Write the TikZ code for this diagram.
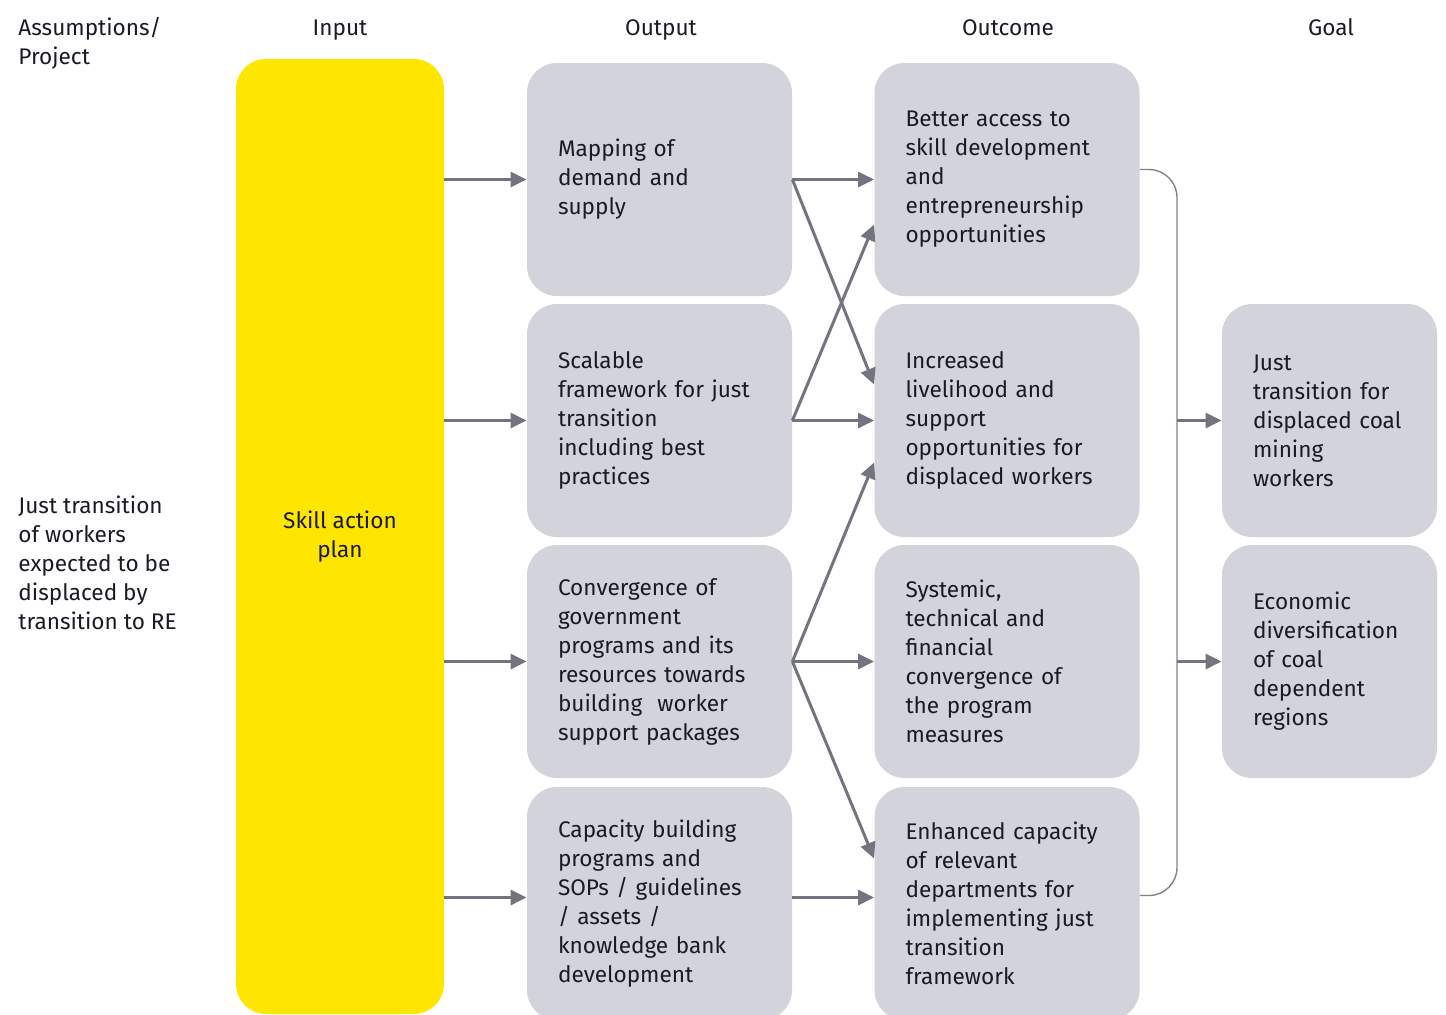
\documentclass[tikz,border=0pt]{standalone}
\usepackage{fontspec}
\setmainfont{Fira Sans}
\usepackage{tikz}
\usetikzlibrary{arrows.meta,calc}
\definecolor{eyyellow}{HTML}{FFE600}
\definecolor{boxgrey}{HTML}{D2D3DB}
\definecolor{linkgrey}{HTML}{747480}
\definecolor{textdark}{HTML}{1A1A24}

\tikzset{
  boxtext/.style={font=\fontsize{11.3}{14.5}\selectfont, text=textdark},
  card/.style={boxtext, fill=boxgrey, rounded corners=15pt, align=left,
    minimum height=116.5pt, inner xsep=15.5pt, text width=#1},
  card/.default=101.5pt,
  head/.style={boxtext, inner sep=0pt},
  flow/.style={-{Triangle[length=8pt,width=7.5pt]}, line width=1.5pt, linkgrey},
  bracket/.style={line width=0.7pt, draw=linkgrey!90, rounded corners=14pt}
}

\begin{document}
\begin{tikzpicture}[x=0.5pt,y=-0.5pt]
  \useasboundingbox (0,0) rectangle (1446,1014);
  \node[head, anchor=base west, align=left] (hass) at (18,64) {Assumptions/\\Project};
  \node[head, anchor=base] (hin) at (340,35) {Input};
  \node[head, anchor=base] (hout) at (661,35) {Output};
  \node[head, anchor=base] (hoc) at (1008,35) {Outcome};
  \node[head, anchor=base] (hgoal) at (1331,35) {Goal};

  \node[head, anchor=west, align=left] (assume) at (18,563)
    {Just transition\\of workers\\expected to be\\displaced by\\transition to RE};

  \node[boxtext, fill=eyyellow, rounded corners=15pt, minimum width=104pt,
    minimum height=477.5pt, align=center] (in) at (340,536.5) {Skill action\\plan};

  \node[card] (p1) at (659.5,179.5) {Mapping of\\demand and\\supply};
  \node[card] (p2) at (659.5,420.5) {Scalable\\framework for just\\transition\\including best\\practices};
  \node[card] (p3) at (659.5,661.5) {Convergence of\\government\\programs and its\\resources towards\\building\ \ worker\\support packages};
  \node[card] (p4) at (659.5,903.5) {Capacity building\\programs and\\SOPs / guidelines\\/ assets /\\knowledge bank\\development};

  \node[card] (r1) at (1007,179.5) {Better access to\\skill development\\and\\entrepreneurship\\opportunities};
  \node[card] (r2) at (1007,420.5) {Increased\\livelihood and\\support\\opportunities for\\displaced workers};
  \node[card] (r3) at (1007,661.5) {Systemic,\\technical and\\financial\\convergence of\\the program\\measures};
  \node[card] (r4) at (1007,903.5) {Enhanced capacity\\of relevant\\departments for\\implementing just\\transition\\framework};

  \node[card=76.5pt] (g1) at (1329.5,420.5) {Just\\transition for\\displaced coal\\mining\\workers};
  \node[card=76.5pt] (g2) at (1329.5,661.5) {Economic\\diversification\\of coal\\dependent\\regions};

  \foreach \p in {p1,p2,p3}
    \draw[flow] (in.east |- \p.west) -- (\p.west);
  \draw[flow] ([yshift=3pt]in.east |- p4.west) -- ([yshift=3pt]p4.west);

  \draw[flow] (p1.east) -- (r1.west);
  \draw[flow] (p1.east) -- ([yshift=18pt]r2.west);
  \draw[flow] (p2.east) -- (r2.west);
  \draw[flow] (p2.east) -- ([yshift=-22.5pt]r1.west);
  \draw[flow] (p3.east) -- (r3.west);
  \draw[flow] (p3.east) -- ([yshift=-21pt]r2.west);
  \draw[flow] (p3.east) -- ([yshift=22.5pt]r4.west);
  \draw[flow] ([yshift=3pt]p4.east) -- ([yshift=3pt]r4.west);

  \coordinate (bx) at (1177,540);
  \coordinate (b1) at ([yshift=5pt]r1.east);
  \coordinate (b4) at ([yshift=4pt]r4.east);
  \draw[bracket] (b1) -| (bx |- b4) -- (b4);
  \draw[flow] (bx |- g1.west) -- (g1.west);
  \draw[flow] (bx |- g2.west) -- (g2.west);
\end{tikzpicture}
\end{document}
